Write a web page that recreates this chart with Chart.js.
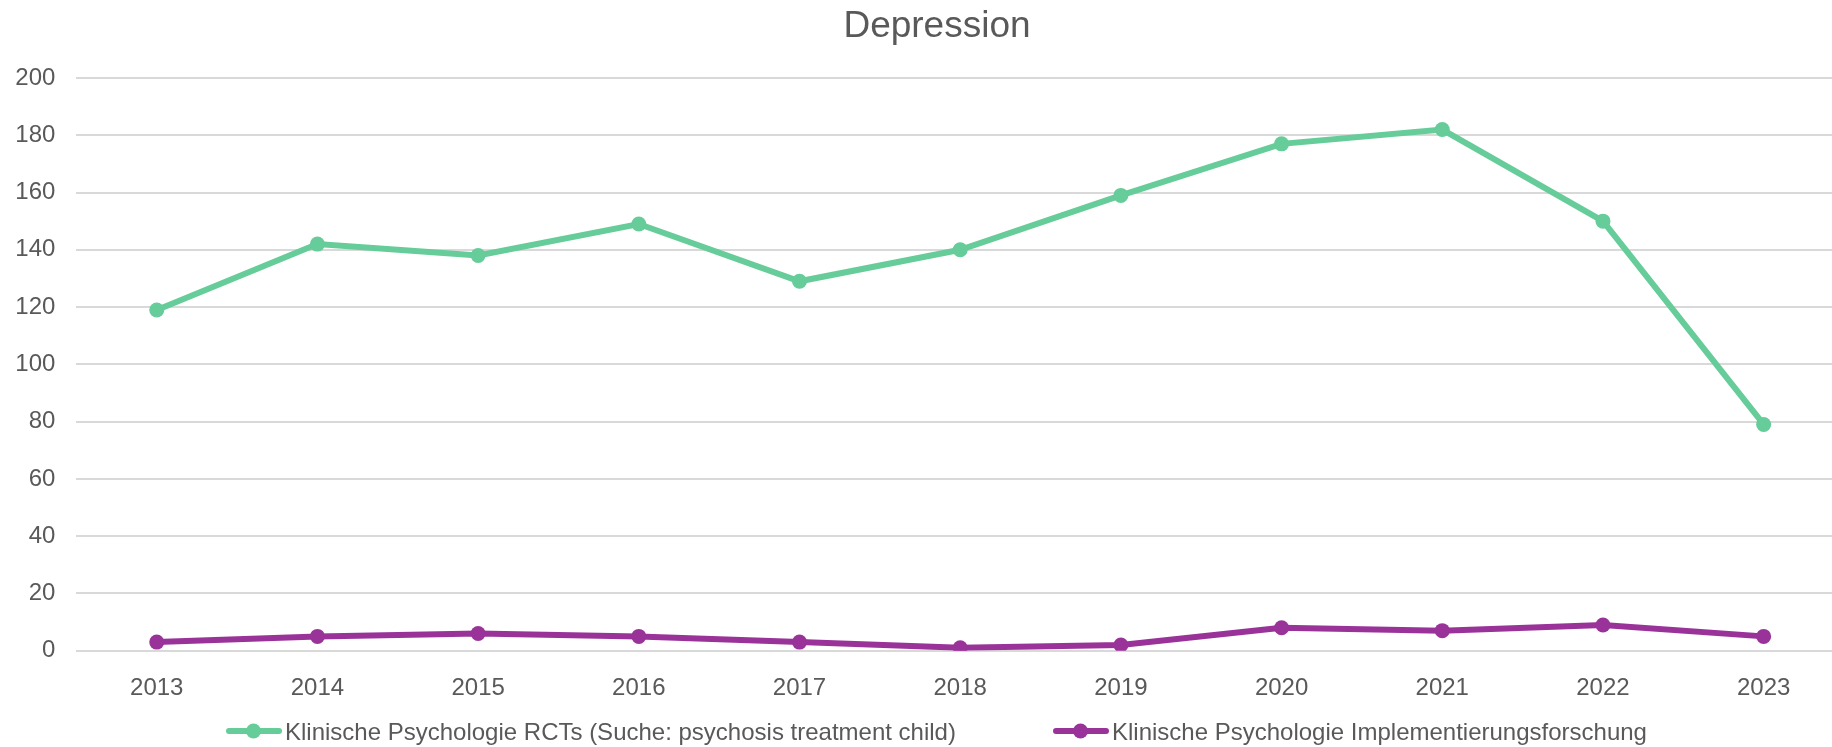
<!DOCTYPE html>
<html>
<head>
<meta charset="utf-8">
<title>Depression</title>
<script src="https://cdn.jsdelivr.net/npm/chart.js@4"></script>
<style>
    html, body { margin: 0; padding: 0; background: #fff; overflow: hidden; }
    #wrap { width: 1844px; height: 747px; position: relative; }
    #depressionChart { display: block; }
</style>
</head>
<body>
<div id="wrap"><canvas id="depressionChart" width="1844" height="747"></canvas></div>
<script>
// Data
const years = ['2013', '2014', '2015', '2016', '2017', '2018', '2019', '2020', '2021', '2022', '2023'];
const rctValues = [119, 142, 138, 149, 129, 140, 159, 177, 182, 150, 79];
const implValues = [3, 5, 6, 5, 3, 1, 2, 8, 7, 9, 5];
const seriesLabels = [
    'Klinische Psychologie RCTs (Suche: psychosis treatment child)',
    'Klinische Psychologie Implementierungsforschung'
];
const yTicks = [0, 20, 40, 60, 80, 100, 120, 140, 160, 180, 200];
const chartTitle = 'Depression';

const textColor = '#595959';
const fontFamily = '"Liberation Sans", Arial, sans-serif';

// Title + legend drawn by hand so they sit where the original has them
const titleLegendPlugin = {
    id: 'titleLegend',
    afterDraw(chart) {
        const ctx = chart.ctx;
        ctx.save();
        ctx.fillStyle = textColor;
        ctx.font = '37px ' + fontFamily;
        ctx.textAlign = 'center';
        ctx.textBaseline = 'alphabetic';
        ctx.fillText(chartTitle, 937, 37);

        const legendStarts = [226, 1053];
        const legendY = 731;
        ctx.font = '24px ' + fontFamily;
        ctx.textAlign = 'left';
        chart.data.datasets.forEach(function (ds, i) {
            const x0 = legendStarts[i];
            ctx.strokeStyle = ds.borderColor;
            ctx.lineWidth = 6;
            ctx.lineCap = 'round';
            ctx.beginPath();
            ctx.moveTo(x0 + 3, legendY);
            ctx.lineTo(x0 + 53, legendY);
            ctx.stroke();
            ctx.fillStyle = ds.pointBackgroundColor;
            ctx.beginPath();
            ctx.arc(x0 + 27.5, legendY, 7.5, 0, Math.PI * 2);
            ctx.fill();
            ctx.fillStyle = textColor;
            ctx.fillText(ds.label, x0 + 59, legendY + 8.6);
        });
        ctx.restore();
    }
};

document.addEventListener('DOMContentLoaded', function () {
    const ctx = document.getElementById('depressionChart');

    new Chart(ctx, {
        type: 'line',
        data: {
            labels: years,
            datasets: [{
                label: seriesLabels[0],
                data: rctValues,
                borderColor: '#66CC99',
                backgroundColor: '#66CC99',
                pointBackgroundColor: '#66CC99',
                pointBorderWidth: 0,
                pointRadius: 7.5,
                borderWidth: 6,
                tension: 0
            }, {
                label: seriesLabels[1],
                data: implValues,
                borderColor: '#993399',
                backgroundColor: '#993399',
                pointBackgroundColor: '#993399',
                pointBorderWidth: 0,
                pointRadius: 7.5,
                borderWidth: 6,
                tension: 0
            }]
        },
        options: {
            responsive: false,
            animation: false,
            devicePixelRatio: 1,
            // plot area runs a bit past the right edge of the 1832px picture
            layout: { autoPadding: false, padding: { top: 78, left: 0, right: 0, bottom: 0 } },
            plugins: {
                legend: { display: false },
                title: { display: false },
                tooltip: { enabled: false }
            },
            scales: {
                x: {
                    offset: true,
                    grid: { display: false },
                    border: { display: false },
                    ticks: {
                        color: textColor,
                        font: { family: fontFamily, size: 24 },
                        padding: 15,
                        maxRotation: 0
                    },
                    afterFit: function (scale) { scale.height = 96.3; }
                },
                y: {
                    min: 0,
                    max: 200,
                    afterBuildTicks: function (scale) {
                        scale.ticks = yTicks.map(v => ({ value: v }));
                    },
                    grid: { color: '#D9D9D9', lineWidth: 2, drawTicks: false },
                    border: { display: false },
                    ticks: {
                        color: textColor,
                        font: { family: fontFamily, size: 24 },
                        padding: 21
                    },
                    afterFit: function (scale) { scale.width = 76.4; }
                }
            }
        },
        plugins: [titleLegendPlugin]
    });
});
</script>
</body>
</html>
